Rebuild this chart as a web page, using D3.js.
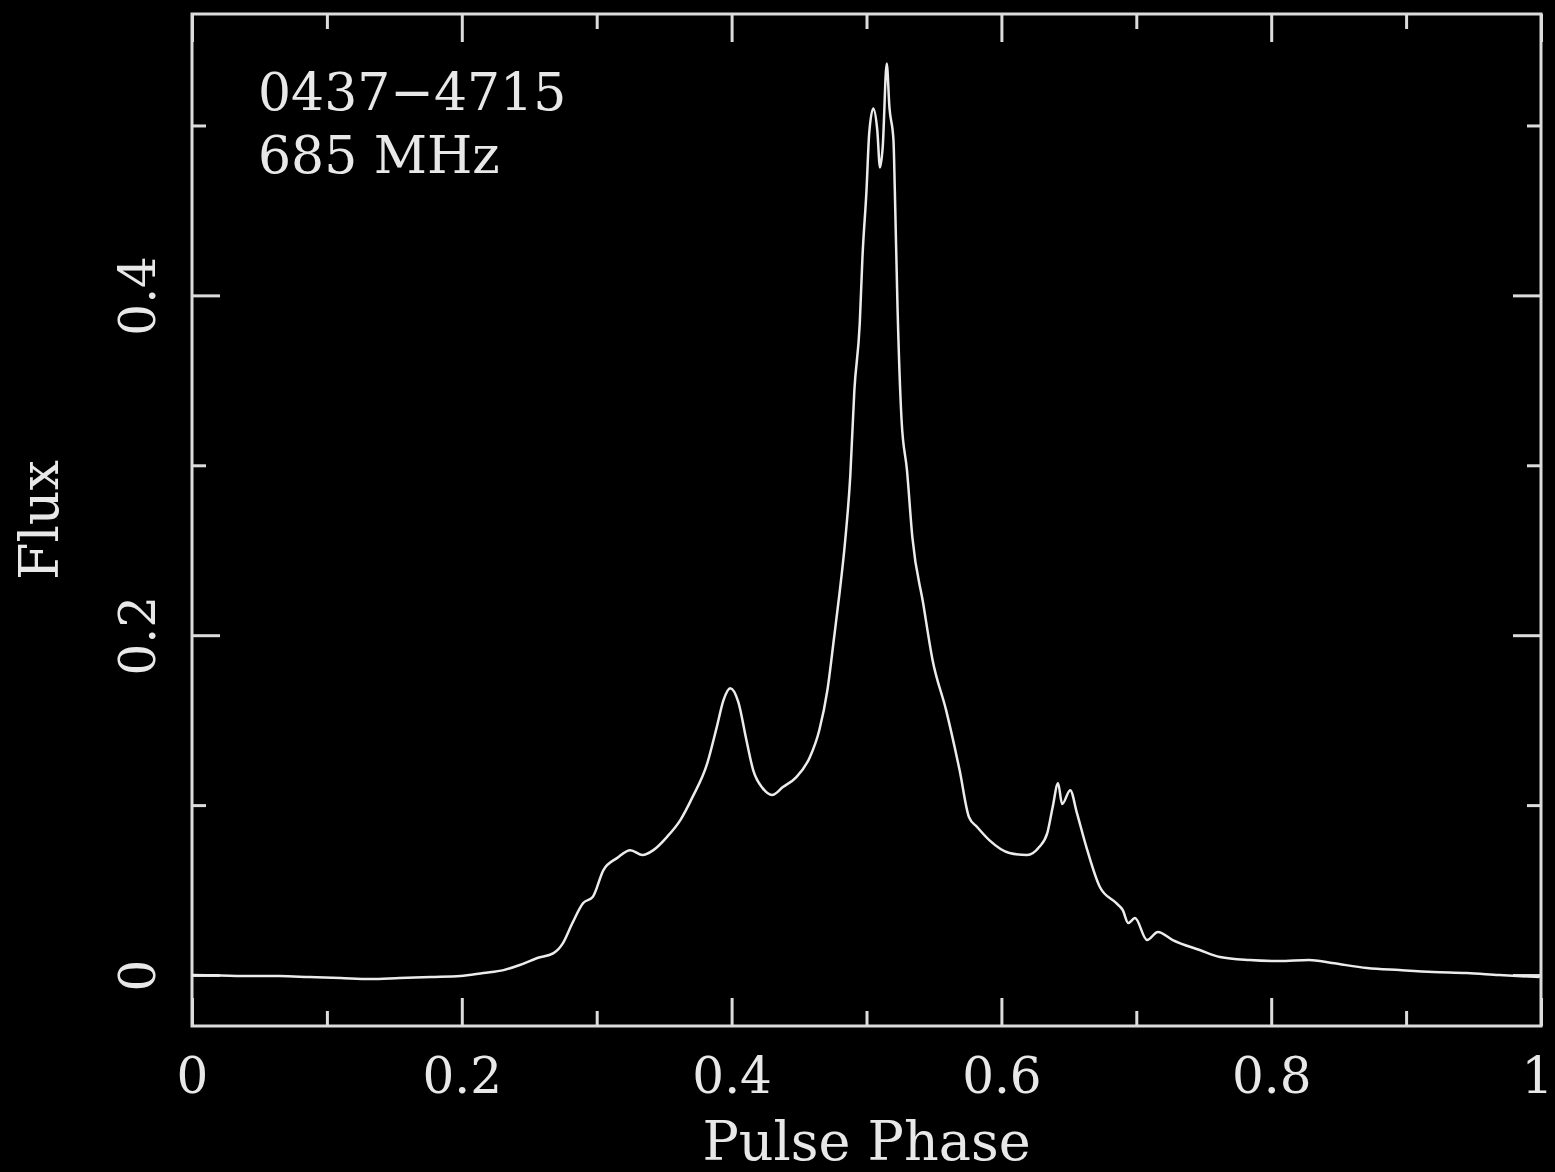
<!DOCTYPE html>
<html>
<head>
<meta charset="utf-8">
<script src="https://cdnjs.cloudflare.com/ajax/libs/d3/7.8.5/d3.min.js"></script>
<style>
  html, body { margin: 0; padding: 0; background: #000; }
  svg { display: block; }
  .axis path { display: none; }
  .axis line { stroke: #dcdcdc; stroke-width: 3; }
  text { fill: #e8e8e8; font-family: "DejaVu Serif", serif; }
</style>
</head>
<body>
<script>

// pulse profile
var phase = [0.000, 0.021, 0.043, 0.065, 0.087, 0.110, 0.132, 0.154, 0.177, 0.199,
    0.216, 0.231, 0.243, 0.256, 0.268, 0.275, 0.282, 0.290, 0.297, 0.305,
    0.315, 0.325, 0.334, 0.342, 0.352, 0.362, 0.371, 0.382, 0.389, 0.394,
    0.399, 0.405, 0.411, 0.416, 0.423, 0.430, 0.438, 0.448, 0.458, 0.465,
    0.471, 0.476, 0.480, 0.484, 0.488, 0.491, 0.495, 0.497, 0.500, 0.502,
    0.505, 0.508, 0.510, 0.512, 0.515, 0.517, 0.520, 0.521, 0.523, 0.526,
    0.530, 0.534, 0.542, 0.549, 0.559, 0.569, 0.576, 0.582, 0.591, 0.606,
    0.619, 0.628, 0.634, 0.638, 0.642, 0.645, 0.651, 0.656, 0.663, 0.673,
    0.685, 0.690, 0.694, 0.699, 0.708, 0.716, 0.727, 0.747, 0.762, 0.784,
    0.806, 0.828, 0.845, 0.871, 0.895, 0.920, 0.945, 0.969, 0.999];
var flux = [0.000, -0.0003, -0.0006, -0.0006, -0.0012, -0.0018, -0.0024, -0.0018, -0.0012, -0.0006,
    0.0012, 0.0029, 0.0059, 0.0100, 0.0129, 0.0188, 0.0306, 0.0424, 0.0459, 0.0618,
    0.0688, 0.0735, 0.0706, 0.0735, 0.0812, 0.0912, 0.1047, 0.1247, 0.1459, 0.1618,
    0.1688, 0.1606, 0.1382, 0.1206, 0.1100, 0.1059, 0.1106, 0.1165, 0.1282, 0.1441,
    0.1676, 0.1988, 0.2247, 0.2541, 0.2941, 0.3441, 0.3835, 0.4224, 0.4618, 0.4953,
    0.5100, 0.4971, 0.4753, 0.4871, 0.5365, 0.5106, 0.4912, 0.4618, 0.3929, 0.3265,
    0.2971, 0.2576, 0.2188, 0.1853, 0.1559, 0.1206, 0.0929, 0.0871, 0.0794, 0.0718,
    0.0706, 0.0753, 0.0835, 0.0988, 0.1129, 0.1006, 0.1088, 0.0953, 0.0753, 0.0518,
    0.0424, 0.0382, 0.0306, 0.0335, 0.0206, 0.0253, 0.0206, 0.0147, 0.0106, 0.0088,
    0.0082, 0.0088, 0.0071, 0.0041, 0.0029, 0.0018, 0.0012, 0.0000, -0.0012];

var xMajor = [0, 0.2, 0.4, 0.6, 0.8, 1];
var xMinor = [0.1, 0.3, 0.5, 0.7, 0.9];
var yMajor = [0, 0.2, 0.4];
var yMinor = [0.1, 0.3, 0.5];
var labels = ["0437\u22124715", "685 MHz"];

var data = phase.map(function(p, i){ return {phase: p, flux: flux[i]}; });

var margin = {top: 14, right: 14, bottom: 146, left: 192};
var W = 1555, H = 1172;
var width = W - margin.left - margin.right;
var height = H - margin.top - margin.bottom;

var x = d3.scaleLinear().domain([0, 1]).range([0, width]);
var y = d3.scaleLinear().domain([-0.0300, 0.5656]).range([height, 0]);

var svg = d3.select('body').append('svg')
    .attr('width', W)
    .attr('height', H)
    .style('background', '#000');
var g = svg.append('g').attr('transform', 'translate(' + margin.left + ',' + margin.top + ')');

var fmt = d3.format('~g');

// bottom, with labels
var bottom = g.append('g').attr('class', 'axis')
    .attr('transform', 'translate(0,' + height + ')')
    .call(d3.axisBottom(x).tickValues(xMajor).tickSize(-28).tickFormat(fmt));
bottom.selectAll('text').attr('y', 67).attr('dy', null).style('font-size', '50px');
// last label sits at the very edge, nudge it in a bit
bottom.selectAll('text').filter(function(d){ return d === 1; }).attr('x', -4);
g.append('g').attr('class', 'axis')
    .attr('transform', 'translate(0,' + height + ')')
    .call(d3.axisBottom(x).tickValues(xMinor).tickSize(-15).tickFormat(''));

// top
g.append('g').attr('class', 'axis')
    .call(d3.axisTop(x).tickValues(xMajor).tickSize(-28).tickFormat(''));
g.append('g').attr('class', 'axis')
    .call(d3.axisTop(x).tickValues(xMinor).tickSize(-15).tickFormat(''));

// left, with rotated labels
var left = g.append('g').attr('class', 'axis')
    .call(d3.axisLeft(y).tickValues(yMajor).tickSize(-28).tickFormat(fmt));
left.selectAll('text')
    .attr('x', 0).attr('y', -37).attr('dy', null)
    .attr('transform', 'rotate(-90)')
    .attr('text-anchor', 'middle')
    .style('font-size', '50px');
g.append('g').attr('class', 'axis')
    .call(d3.axisLeft(y).tickValues(yMinor).tickSize(-14).tickFormat(''));

// right
g.append('g').attr('class', 'axis')
    .attr('transform', 'translate(' + width + ',0)')
    .call(d3.axisRight(y).tickValues(yMajor).tickSize(-28).tickFormat(''));
g.append('g').attr('class', 'axis')
    .attr('transform', 'translate(' + width + ',0)')
    .call(d3.axisRight(y).tickValues(yMinor).tickSize(-14).tickFormat(''));

// frame
g.append('rect')
    .attr('width', width).attr('height', height)
    .attr('fill', 'none').attr('stroke', '#dcdcdc').attr('stroke-width', 3);

// profile
var line = d3.line()
    .curve(d3.curveMonotoneX)
    .x(function(d){ return x(d.phase); })
    .y(function(d){ return y(d.flux); });
g.append('path').datum(data)
    .attr('d', line)
    .attr('fill', 'none')
    .attr('stroke', '#ececec')
    .attr('stroke-width', 2.5)
    .attr('stroke-linejoin', 'round');

// pulsar name + frequency
g.selectAll('.lbl').data(labels).enter().append('text')
    .attr('class', 'lbl')
    .attr('x', 66)
    .attr('y', function(d, i){ return 96 + i * 63; })
    .style('font-size', '52px')
    .text(function(d){ return d; });

// axis titles
g.append('text')
    .attr('x', width / 2).attr('y', height + 134)
    .attr('text-anchor', 'middle')
    .style('font-size', '54px')
    .text('Pulse Phase');
g.append('text')
    .attr('transform', 'translate(-134,' + (height / 2) + ') rotate(-90)')
    .attr('text-anchor', 'middle')
    .style('font-size', '54px')
    .text('Flux');

</script>
</body>
</html>
